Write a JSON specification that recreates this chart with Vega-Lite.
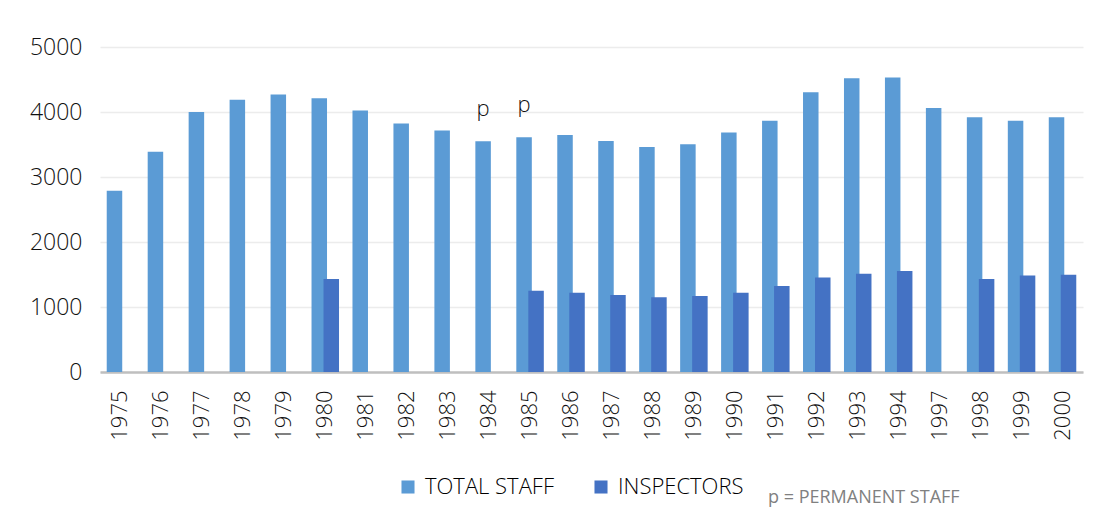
{
  "$schema": "https://vega.github.io/schema/vega-lite/v6.json",
  "width": 983,
  "height": 325,
  "autosize": {"type": "none"},
  "padding": {"left": 100, "top": 47, "right": 22, "bottom": 158},
  "background": "white",
  "title": {
    "text": "p = PERMANENT STAFF",
    "orient": "bottom",
    "anchor": "start",
    "frame": "group",
    "dx": 668,
    "offset": -9,
    "fontSize": 18,
    "fontWeight": "normal",
    "font": "Open Sans",
    "color": "#808080"
  },
  "config": {
    "view": {"stroke": null},
    "font": "Open Sans"
  },
  "data": {
    "values": [
      {"year": "1975", "series": "TOTAL STAFF", "value": 2790},
      {"year": "1976", "series": "TOTAL STAFF", "value": 3390},
      {"year": "1977", "series": "TOTAL STAFF", "value": 4000},
      {"year": "1978", "series": "TOTAL STAFF", "value": 4190},
      {"year": "1979", "series": "TOTAL STAFF", "value": 4270},
      {"year": "1980", "series": "TOTAL STAFF", "value": 4210},
      {"year": "1981", "series": "TOTAL STAFF", "value": 4025},
      {"year": "1982", "series": "TOTAL STAFF", "value": 3825},
      {"year": "1983", "series": "TOTAL STAFF", "value": 3715},
      {"year": "1984", "series": "TOTAL STAFF", "value": 3550, "note": "p"},
      {"year": "1985", "series": "TOTAL STAFF", "value": 3610, "note": "p"},
      {"year": "1986", "series": "TOTAL STAFF", "value": 3645},
      {"year": "1987", "series": "TOTAL STAFF", "value": 3555},
      {"year": "1988", "series": "TOTAL STAFF", "value": 3460},
      {"year": "1989", "series": "TOTAL STAFF", "value": 3505},
      {"year": "1990", "series": "TOTAL STAFF", "value": 3685},
      {"year": "1991", "series": "TOTAL STAFF", "value": 3865},
      {"year": "1992", "series": "TOTAL STAFF", "value": 4305},
      {"year": "1993", "series": "TOTAL STAFF", "value": 4520},
      {"year": "1994", "series": "TOTAL STAFF", "value": 4530},
      {"year": "1997", "series": "TOTAL STAFF", "value": 4060},
      {"year": "1998", "series": "TOTAL STAFF", "value": 3920},
      {"year": "1999", "series": "TOTAL STAFF", "value": 3865},
      {"year": "2000", "series": "TOTAL STAFF", "value": 3920},
      {"year": "1980", "series": "INSPECTORS", "value": 1430},
      {"year": "1985", "series": "INSPECTORS", "value": 1250},
      {"year": "1986", "series": "INSPECTORS", "value": 1220},
      {"year": "1987", "series": "INSPECTORS", "value": 1185},
      {"year": "1988", "series": "INSPECTORS", "value": 1150},
      {"year": "1989", "series": "INSPECTORS", "value": 1170},
      {"year": "1990", "series": "INSPECTORS", "value": 1220},
      {"year": "1991", "series": "INSPECTORS", "value": 1325},
      {"year": "1992", "series": "INSPECTORS", "value": 1455},
      {"year": "1993", "series": "INSPECTORS", "value": 1510},
      {"year": "1994", "series": "INSPECTORS", "value": 1555},
      {"year": "1998", "series": "INSPECTORS", "value": 1430},
      {"year": "1999", "series": "INSPECTORS", "value": 1485},
      {"year": "2000", "series": "INSPECTORS", "value": 1495}
    ]
  },
  "encoding": {
    "x": {
      "field": "year",
      "type": "nominal",
      "sort": null,
      "scale": {"paddingInner": 0, "paddingOuter": 0},
      "axis": {
        "title": null,
        "labelAngle": -90,
        "labelFontSize": 22,
        "labelFontWeight": 300,
        "labelColor": "#111111",
        "labelPadding": 18,
        "ticks": false,
        "domainColor": "#bfbfbf",
        "domainWidth": 2.5,
        "grid": false
      }
    },
    "y": {
      "field": "value",
      "type": "quantitative",
      "scale": {"domain": [0, 5000], "nice": false},
      "axis": {
        "title": null,
        "values": [0, 1000, 2000, 3000, 4000, 5000],
        "format": "d",
        "labelFontSize": 23,
        "labelFontWeight": 300,
        "labelColor": "#111111",
        "labelPadding": 18,
        "ticks": false,
        "domain": false,
        "gridColor": "#ececec",
        "gridWidth": 1.5
      }
    },
    "color": {
      "field": "series",
      "type": "nominal",
      "scale": {"domain": ["TOTAL STAFF", "INSPECTORS"], "range": ["#5b9bd5", "#4472c4"]},
      "legend": {
        "title": null,
        "orient": "none",
        "direction": "horizontal",
        "legendX": 297,
        "legendY": 429,
        "symbolType": "square",
        "symbolSize": 170,
        "symbolStrokeWidth": 0,
        "labelFontSize": 22,
        "labelFontWeight": 300,
        "labelColor": "#000000",
        "labelOffset": 6,
        "columnPadding": 36
      }
    }
  },
  "layer": [
    {
      "transform": [{"filter": "datum.series === 'TOTAL STAFF'"}],
      "mark": {"type": "bar", "width": 15.5, "xOffset": -6}
    },
    {
      "transform": [{"filter": "datum.series === 'INSPECTORS'"}],
      "mark": {"type": "bar", "width": 15.5, "xOffset": 6}
    },
    {
      "transform": [{"filter": "isValid(datum.note)"}],
      "mark": {"type": "text", "xOffset": -6, "dy": -20, "baseline": "bottom", "fontSize": 22, "fontWeight": 300, "fill": "#111111"},
      "encoding": {
        "text": {"field": "note"},
        "color": {"value": "#111111"}
      }
    }
  ]
}
